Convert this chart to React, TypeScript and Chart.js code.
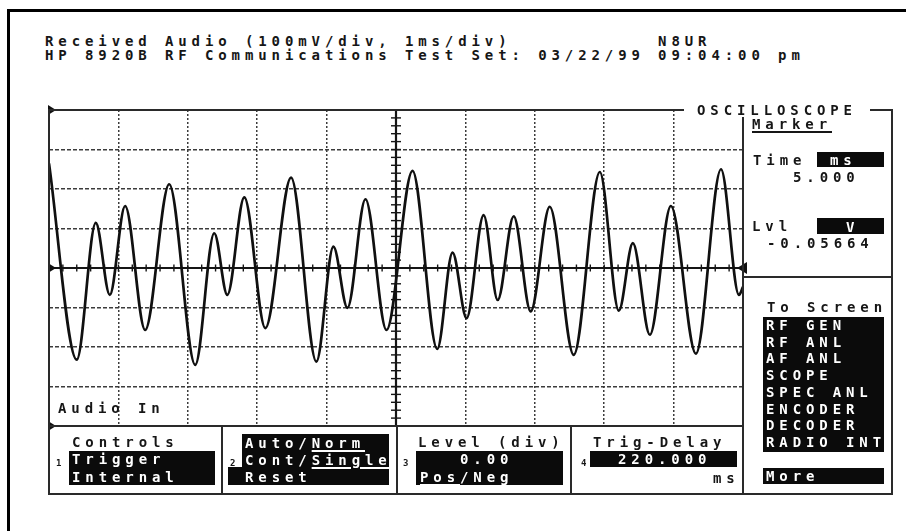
import React, { useEffect, useRef } from "react";
import { Chart, registerables } from "chart.js";

Chart.register(...registerables);

// Trace samples: time in ms, level in volts (100 mV/div)
const timeMs = [
  0, 0.4, 0.674, 0.876, 1.097, 1.385, 1.732, 2.107, 2.381, 2.569, 2.814, 3.117,
  3.488, 3.853, 4.098, 4.3, 4.56, 4.863, 5.238, 5.594, 5.815, 6.017, 6.263,
  6.465, 6.696, 6.941, 7.215, 7.561, 7.937, 8.211, 8.413, 8.658, 8.961, 9.322,
  9.683, 9.942, 10,
];
const levelV = [
  0.265, -0.232, 0.114, -0.068, 0.157, -0.157, 0.212, -0.245, 0.088, -0.068,
  0.179, -0.152, 0.229, -0.237, 0.054, -0.101, 0.174, -0.157, 0.246, -0.205,
  0.039, -0.127, 0.134, -0.081, 0.131, -0.11, 0.155, -0.22, 0.243, -0.108,
  0.063, -0.169, 0.157, -0.217, 0.25, -0.068, -0.048,
];
const timeRangeMs = [0, 10];
const levelRangeV = [-0.4, 0.4];
const timePerDivMs = 1;
const voltsPerDiv = 0.1;

const toScreenItems = [
  "RF GEN",
  "RF ANL",
  "AF ANL",
  "SCOPE",
  "SPEC ANL",
  "ENCODER",
  "DECODER",
  "RADIO INT",
];

const INK = "#161616";
const LINE = "#2a2a2a";

const scopeOverlay = {
  id: "scopeOverlay",
  beforeDatasetsDraw(chart: any) {
    const { ctx, chartArea: a, scales } = chart;
    const x = scales.x;
    const y = scales.y;
    const cx = x.getPixelForValue((timeRangeMs[0] + timeRangeMs[1]) / 2);
    const cy = y.getPixelForValue(0);
    ctx.save();
    ctx.strokeStyle = "#151515";
    const seg = (x1: number, y1: number, x2: number, y2: number) => {
      ctx.beginPath();
      ctx.moveTo(x1, y1);
      ctx.lineTo(x2, y2);
      ctx.stroke();
    };
    ctx.lineWidth = 2.2;
    seg(a.left, cy, a.right, cy);
    seg(cx, a.top, cx, a.bottom);
    ctx.lineWidth = 1.4;
    const tStep = timePerDivMs / 5;
    for (let t = timeRangeMs[0]; t <= timeRangeMs[1] + 1e-9; t += tStep) {
      const px = x.getPixelForValue(t);
      seg(px, cy - 3.5, px, cy + 3.5);
    }
    const vStep = voltsPerDiv / 5;
    for (let v = levelRangeV[0]; v <= levelRangeV[1] + 1e-9; v += vStep) {
      const py = y.getPixelForValue(v);
      seg(cx - 5, py, cx + 5, py);
    }
    ctx.restore();
  },
  afterDatasetsDraw(chart: any) {
    const { ctx, chartArea: a, scales } = chart;
    const y = scales.y;
    ctx.save();
    ctx.fillStyle = "#111";
    [levelRangeV[1], 0, levelRangeV[0]].forEach((v) => {
      const py = y.getPixelForValue(v);
      ctx.beginPath();
      ctx.moveTo(a.left - 1, py - 5);
      ctx.lineTo(a.left + 7, py);
      ctx.lineTo(a.left - 1, py + 5);
      ctx.closePath();
      ctx.fill();
    });
    const cy = y.getPixelForValue(0);
    ctx.beginPath();
    ctx.moveTo(a.right + 4, cy - 6);
    ctx.lineTo(a.right - 6, cy);
    ctx.lineTo(a.right + 4, cy + 6);
    ctx.closePath();
    ctx.fill();
    ctx.restore();
  },
};

function T(props: {
  x: number;
  y: number;
  inv?: boolean;
  size?: number;
  children: any;
}) {
  const size = props.size ?? 14;
  return (
    <div
      style={{
        position: "absolute",
        left: props.x,
        top: props.y - 3,
        fontSize: size,
        lineHeight: "16px",
        whiteSpace: "pre",
        letterSpacing: size === 14 ? 4.9 : 0,
        color: props.inv ? "#fff" : INK,
      }}
    >
      {props.children}
    </div>
  );
}

function Box(props: { x: number; y: number; w: number; h: number; c?: string }) {
  return (
    <div
      style={{
        position: "absolute",
        left: props.x,
        top: props.y,
        width: props.w,
        height: props.h,
        background: props.c ?? "#0b0b0b",
      }}
    />
  );
}

const ul = (color: string) => ({
  textDecoration: "underline",
  textDecorationColor: color,
  textDecorationThickness: "1.5px",
  textUnderlineOffset: "2px",
});

export default function App() {
  const canvasRef = useRef<HTMLCanvasElement | null>(null);

  useEffect(() => {
    const canvas = canvasRef.current;
    if (!canvas) return;
    const points = timeMs.map((t, i) => ({ x: t, y: levelV[i] }));
    const isEdgeOrCenter = (val: number, lo: number, hi: number) => {
      const mid = (lo + hi) / 2;
      const eps = 1e-6;
      return (
        Math.abs(val - lo) < eps || Math.abs(val - hi) < eps || Math.abs(val - mid) < eps
      );
    };
    const chart = new Chart(canvas, {
      type: "line",
      data: {
        datasets: [
          {
            label: "Audio In",
            data: points,
            borderColor: "#101010",
            borderWidth: 2.7,
            pointRadius: 0,
            fill: false,
            cubicInterpolationMode: "monotone",
          },
        ],
      },
      options: {
        animation: false,
        responsive: false,
        devicePixelRatio: 1,
        layout: { padding: { left: 10, right: 10, top: 10, bottom: 10 } },
        plugins: {
          legend: { display: false },
          tooltip: { enabled: false },
        },
        scales: {
          x: {
            type: "linear",
            min: timeRangeMs[0],
            max: timeRangeMs[1],
            ticks: { display: false, stepSize: timePerDivMs },
            grid: {
              drawTicks: false,
              lineWidth: 1.5,
              color: (c: any) =>
                c.tick && isEdgeOrCenter(c.tick.value, timeRangeMs[0], timeRangeMs[1])
                  ? "rgba(0,0,0,0)"
                  : "#3c3c3c",
            },
            border: { display: false, dash: [2, 2] },
          },
          y: {
            type: "linear",
            min: levelRangeV[0],
            max: levelRangeV[1],
            ticks: { display: false, stepSize: voltsPerDiv },
            grid: {
              drawTicks: false,
              lineWidth: 1.5,
              color: (c: any) =>
                c.tick && isEdgeOrCenter(c.tick.value, levelRangeV[0], levelRangeV[1])
                  ? "rgba(0,0,0,0)"
                  : "#3c3c3c",
            },
            border: { display: false, dash: [4, 2] },
          },
        },
      } as any,
      plugins: [scopeOverlay],
    });
    return () => chart.destroy();
  }, []);

  return (
    <div
      style={{
        position: "absolute",
        left: 0,
        top: 0,
        width: 906,
        height: 531,
        background: "#fff",
        overflow: "hidden",
        fontFamily: '"DejaVu Sans Mono", "Liberation Mono", monospace',
        fontWeight: "bold",
        fontSize: 14,
        color: INK,
      }}
    >
      {/* outer frame */}
      <Box x={7} y={9} w={899} h={3} c="#000" />
      <Box x={7} y={9} w={3} h={522} c="#000" />

      {/* header */}
      <T x={45} y={36}>{"Received Audio (100mV/div, 1ms/div)           N8UR"}</T>
      <T x={45} y={50}>{"HP 8920B RF Communications Test Set: 03/22/99 09:04:00 pm"}</T>

      {/* scope trace */}
      <canvas
        ref={canvasRef}
        width={714}
        height={336}
        style={{ position: "absolute", left: 39, top: 100, width: 714, height: 336 }}
      />

      {/* screen frame lines */}
      <Box x={48} y={109} w={845} h={2} c={LINE} />
      <Box x={48} y={109} w={2} h={386} c={LINE} />
      <Box x={891} y={109} w={2} h={386} c={LINE} />
      <Box x={48} y={493} w={845} h={2} c={LINE} />
      <Box x={48} y={425} w={695} h={2} c={LINE} />
      <Box x={742} y={109} w={2} h={386} c={LINE} />
      <Box x={743} y={276} w={149} h={2} c={LINE} />
      <Box x={221} y={425} w={2} h={69} c={LINE} />
      <Box x={396} y={425} w={2} h={69} c={LINE} />
      <Box x={570} y={425} w={2} h={69} c={LINE} />

      <T x={58} y={403}>Audio In</T>

      {/* OSCILLOSCOPE title on the frame */}
      <Box x={684} y={103} w={186} h={14} c="#fff" />
      <T x={697} y={105}>OSCILLOSCOPE</T>

      {/* marker panel */}
      <T x={752} y={119}>
        <span style={ul(INK)}>Marker</span>
      </T>
      <T x={753} y={155}>Time</T>
      <Box x={817} y={152} w={67} h={15} />
      <T x={830} y={155} inv>ms</T>
      <T x={793} y={172}>5.000</T>
      <T x={752} y={221}>Lvl</T>
      <Box x={817} y={218} w={67} h={16} />
      <T x={846} y={222} inv>V</T>
      <T x={767} y={238}>-0.05664</T>

      {/* to screen menu */}
      <T x={767} y={302}>To Screen</T>
      <Box x={763} y={317} w={121} h={135} />
      {toScreenItems.map((s, i) => (
        <T key={s} x={766} y={320 + i * 16.7} inv>
          {s}
        </T>
      ))}
      <Box x={763} y={468} w={121} h={16} />
      <T x={766} y={471} inv>More</T>

      {/* bottom controls */}
      <T x={72} y={437}>Controls</T>
      <T x={56} y={458} size={9}>1</T>
      <Box x={69} y={451} w={146} h={34} />
      <T x={72} y={454} inv>Trigger</T>
      <T x={72} y={472} inv>Internal</T>

      <Box x={242} y={434} w={147} h={34} />
      <Box x={228} y={467} w={161} h={18} />
      <T x={230} y={458} size={9}>2</T>
      <T x={245} y={438} inv>
        {"Auto/"}
        <span style={ul("#fff")}>Norm</span>
      </T>
      <T x={245} y={455} inv>
        {"Cont/"}
        <span style={ul("#fff")}>Single</span>
      </T>
      <T x={245} y={472} inv>Reset</T>

      <T x={418} y={437}>Level (div)</T>
      <T x={403} y={458} size={9}>3</T>
      <Box x={416} y={451} w={147} h={34} />
      <T x={460} y={454} inv>0.00</T>
      <T x={420} y={472} inv>
        <span style={ul("#fff")}>Pos</span>
        {"/Neg"}
      </T>

      <T x={593} y={437}>Trig-Delay</T>
      <T x={581} y={458} size={9}>4</T>
      <Box x={590} y={451} w={147} h={16} />
      <T x={618} y={454} inv>220.000</T>
      <T x={713} y={473}>ms</T>
    </div>
  );
}
